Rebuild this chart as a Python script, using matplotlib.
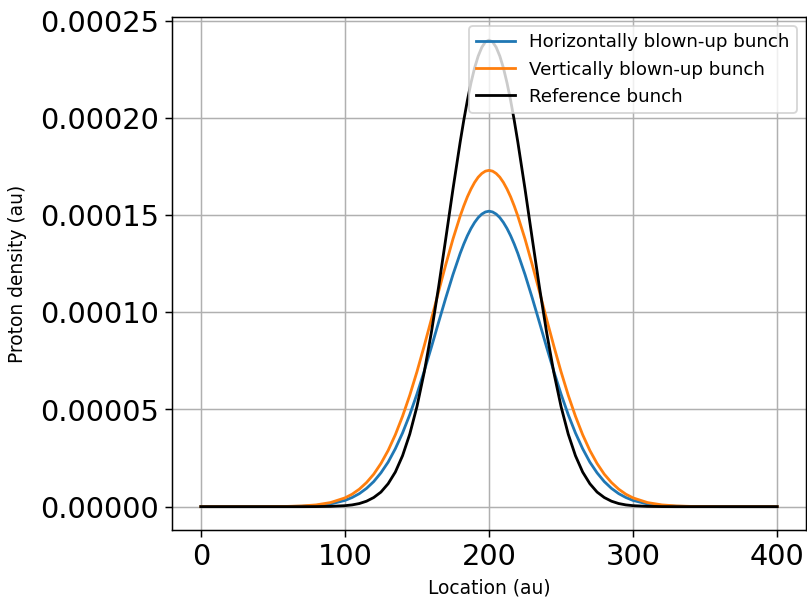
import numpy as np
from matplotlib import pyplot as plt
import matplotlib.ticker as mticker

# location along the bunch (au)
location = [0, 40, 60, 70, 80, 90, 100, 105, 110, 115, 120, 125, 130, 135, 140,
            145, 150, 155, 160, 165, 170, 175, 180, 182.5, 185, 187.5, 190,
            192.5, 195, 197.5, 200, 202.5, 205, 207.5, 210, 212.5, 215, 217.5,
            220, 225, 230, 235, 240, 245, 250, 255, 260, 265, 270, 275, 280,
            285, 290, 295, 300, 310, 320, 330, 340, 360, 400]

# proton density (units of 1e-5 au)
horizontal = [0, 0.001, 0.008, 0.022, 0.06, 0.14, 0.32, 0.47, 0.67, 0.94, 1.29,
              1.74, 2.29, 2.98, 3.79, 4.73, 5.79, 6.96, 8.20, 9.48, 10.74,
              11.94, 13.03, 13.51, 13.94, 14.31, 14.62, 14.87, 15.05, 15.16,
              15.20,
              15.16, 15.05, 14.87, 14.62, 14.31, 13.94, 13.51, 13.03, 11.94,
              10.74, 9.48, 8.20, 6.96, 5.79, 4.73, 3.79, 2.98, 2.29, 1.74, 1.29,
              0.94, 0.67, 0.47, 0.32, 0.14, 0.06, 0.022, 0.008, 0.001, 0]
vertical = [0, 0.002, 0.013, 0.036, 0.09, 0.21, 0.45, 0.64, 0.90, 1.24, 1.67,
            2.22, 2.89, 3.70, 4.65, 5.73, 6.94, 8.26, 9.64, 11.06, 12.45,
            13.77, 14.95, 15.47, 15.94, 16.34, 16.68, 16.95, 17.14, 17.26,
            17.30,
            17.26, 17.14, 16.95, 16.68, 16.34, 15.94, 15.47, 14.95, 13.77,
            12.45, 11.06, 9.64, 8.26, 6.94, 5.73, 4.65, 3.70, 2.89, 2.22, 1.67,
            1.24, 0.90, 0.64, 0.45, 0.21, 0.09, 0.036, 0.013, 0.002, 0]
reference = [0, 0, 0, 0, 0.003, 0.014, 0.05, 0.09, 0.16, 0.28, 0.47, 0.75,
             1.18, 1.78, 2.62, 3.73, 5.15, 6.90, 8.96, 11.29, 13.79, 16.34,
             18.76, 19.88, 20.90, 21.80, 22.57, 23.18, 23.63, 23.91, 24.00,
             23.91, 23.63, 23.18, 22.57, 21.80, 20.90, 19.88, 18.76, 16.34,
             13.79, 11.29, 8.96, 6.90, 5.15, 3.73, 2.62, 1.78, 1.18, 0.75, 0.47,
             0.28, 0.16, 0.09, 0.05, 0.014, 0.003, 0, 0, 0, 0]

labels = ['Horizontally blown-up bunch', 'Vertically blown-up bunch',
          'Reference bunch']

dpi = 134
fig = plt.figure(figsize=(807 / dpi, 599.2 / dpi), dpi=dpi)
ax = fig.add_axes([172 / 807, 69 / 599, 634 / 807, 513 / 599])

ax.plot(location, np.array(horizontal) * 1e-5, color='#1f77b4', lw=1.5, label=labels[0])
ax.plot(location, np.array(vertical) * 1e-5, color='#ff7f0e', lw=1.5, label=labels[1])
ax.plot(location, np.array(reference) * 1e-5, color='k', lw=1.5, label=labels[2])

ax.grid(True, color='#b0b0b0', lw=0.8)
ax.set_axisbelow(True)
ax.yaxis.set_major_locator(mticker.MultipleLocator(0.00005))
ax.yaxis.set_major_formatter(mticker.FormatStrFormatter('%.5f'))
ax.xaxis.set_major_locator(mticker.MultipleLocator(100))
ax.tick_params(labelsize=15.5)

ax.set_xlabel('Location (au)', fontsize=10)
ax.set_ylabel('Proton density (au)', fontsize=10, labelpad=7)
ax.legend(loc='upper right', fontsize=9.8, handlelength=2.1)

fig.savefig('out.png', dpi=dpi)
